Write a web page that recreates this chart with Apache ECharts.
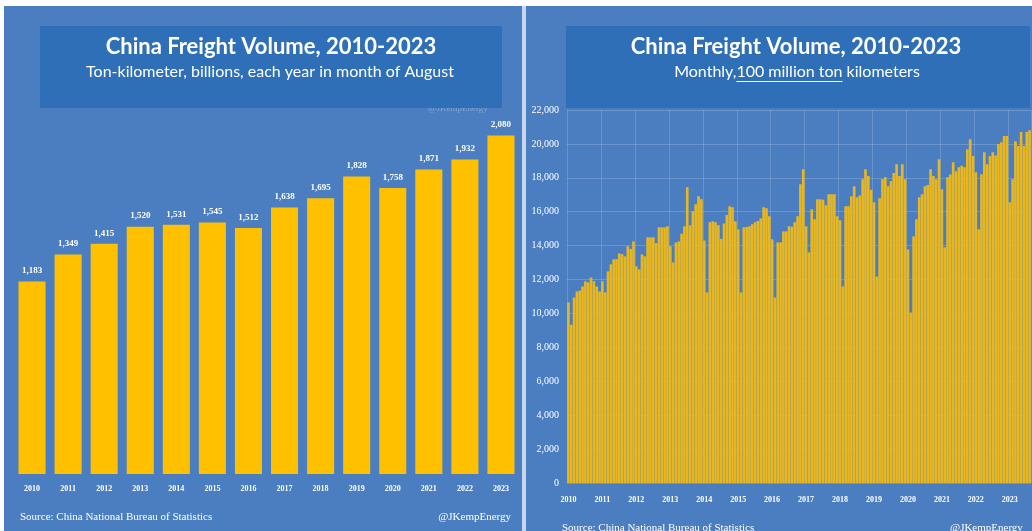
<!DOCTYPE html>
<html>
<head>
<meta charset="utf-8">
<script src="https://cdn.jsdelivr.net/npm/echarts@6/dist/echarts.min.js"></script>
<style>
  html, body { margin: 0; padding: 0; background: #ffffff; }
  #chart { width: 1032px; height: 531px; }
</style>
</head>
<body>
<div id="chart"></div>
<script>
// August freight turnover, billion ton-km
const augustYears = ['2010', '2011', '2012', '2013', '2014', '2015', '2016',
                     '2017', '2018', '2019', '2020', '2021', '2022', '2023'];
const augustVolume = [1183, 1349, 1415, 1520, 1531, 1545, 1512,
                      1638, 1695, 1828, 1758, 1871, 1932, 2080];

// Monthly freight turnover, 100 million ton-km (Jan..Dec)
const monthly2010 = [10650, 9340, 10940, 11300, 11350, 11590, 11890, 11830, 12120, 11900, 11590, 11300];
const monthly2011 = [11900, 11240, 12480, 12900, 13190, 13200, 13540, 13490, 13370, 13960, 13800, 14250];
const monthly2012 = [12780, 12600, 13480, 13370, 14490, 14490, 14490, 14150, 15080, 15080, 15080, 15140];
const monthly2013 = [13960, 13010, 14190, 14250, 14700, 15140, 17450, 15200, 16030, 16440, 16910, 16740];
const monthly2014 = [14300, 11240, 15380, 15440, 15380, 15200, 14400, 15310, 15800, 16330, 16260, 15440];
const monthly2015 = [14960, 11240, 15080, 15100, 15140, 15260, 15380, 15450, 15600, 16260, 16200, 15730];
const monthly2016 = [14370, 10940, 14190, 14190, 14840, 14840, 15140, 15120, 15380, 15730, 17620, 18510];
const monthly2017 = [15140, 13600, 16140, 15550, 16740, 16740, 16700, 16380, 17030, 17030, 17030, 15730];
const monthly2018 = [15500, 11590, 16330, 16330, 16910, 17500, 16850, 16950, 17920, 18510, 18100, 17300];
const monthly2019 = [16560, 12180, 16800, 17920, 18040, 17500, 17800, 18280, 18800, 18100, 18800, 17920];
const monthly2020 = [13780, 10050, 14550, 15550, 16850, 17030, 17500, 17580, 18510, 18100, 17920, 19100];
const monthly2021 = [17330, 13900, 18040, 18200, 18920, 18390, 18630, 18710, 18630, 19690, 20280, 19280];
const monthly2022 = [18330, 14960, 18210, 19510, 18800, 19280, 19510, 19320, 19990, 20100, 20460, 20460];
const monthly2023 = [16560, 17920, 20160, 19870, 20700, 19870, 20700, 20800];

const monthlyByYear = [
  ['2010', monthly2010], ['2011', monthly2011], ['2012', monthly2012], ['2013', monthly2013],
  ['2014', monthly2014], ['2015', monthly2015], ['2016', monthly2016], ['2017', monthly2017],
  ['2018', monthly2018], ['2019', monthly2019], ['2020', monthly2020], ['2021', monthly2021],
  ['2022', monthly2022], ['2023', monthly2023]
];

const monthCategories = [];
const monthValues = [];
monthlyByYear.forEach(([year, vals]) => {
  vals.forEach((v, i) => {
    monthCategories.push(year + '-' + String(i + 1).padStart(2, '0'));
    monthValues.push(v);
  });
});

const PANEL = '#4a7ec1';
const TITLE_BOX = '#2e6fb7';
const SERIF = "'Liberation Serif', 'Times New Roman', serif";
const SANS = "Lato, 'Open Sans', sans-serif";
const TITLE_FONT = 'bold 22px ' + SANS;
const SUB_FONT = '16px ' + SANS;
const fmt = v => Number(v).toLocaleString('en-US');

// Underline under "100 million ton" in the right subtitle, placed from measured text widths
const measure = (() => {
  const ctx = document.createElement('canvas').getContext('2d');
  ctx.font = '16px Lato';
  return s => ctx.measureText(s).width;
})();
const subA = 'Monthly,', subB = '100 million ton', subC = ' kilometers';
const subCenterX = 797, subY = 72;
const subLeft = subCenterX - measure(subA + subB + subC) / 2;
const ulX1 = subLeft + measure(subA);
const ulX2 = ulX1 + measure(subB);

const chart = echarts.init(document.getElementById('chart'), null, { renderer: 'canvas' });

chart.setOption({
  animation: false,
  backgroundColor: '#ffffff',
  graphic: [
    // panels
    { type: 'rect', z: -20, shape: { x: 4, y: 6, width: 518, height: 525 }, style: { fill: PANEL } },
    { type: 'rect', z: -20, shape: { x: 526, y: 6, width: 506, height: 525 }, style: { fill: PANEL } },
    { type: 'rect', z: -20, shape: { x: 522, y: 6, width: 4, height: 525 }, style: { fill: '#c9d7ea' } },
    // faint watermark peeking under the left title box
    { type: 'text', z: -10, x: 458, y: 109,
      style: { text: '@JKempEnergy', fill: 'rgba(200,210,225,0.45)', font: '9px ' + SERIF,
               textAlign: 'center', textVerticalAlign: 'middle' } },
    // title boxes
    { type: 'rect', z: 20, shape: { x: 40, y: 26, width: 462, height: 82 }, style: { fill: TITLE_BOX } },
    { type: 'rect', z: 20, shape: { x: 566, y: 26, width: 464, height: 82 }, style: { fill: TITLE_BOX } },
    { type: 'text', z: 21, x: 271, y: 47,
      style: { text: 'China Freight Volume, 2010-2023', fill: '#fff', font: TITLE_FONT,
               textAlign: 'center', textVerticalAlign: 'middle' } },
    { type: 'text', z: 21, x: 270, y: subY,
      style: { text: 'Ton-kilometer, billions, each year in month of August', fill: '#fff', font: SUB_FONT,
               textAlign: 'center', textVerticalAlign: 'middle' } },
    { type: 'text', z: 21, x: 796, y: 47,
      style: { text: 'China Freight Volume, 2010-2023', fill: '#fff', font: TITLE_FONT,
               textAlign: 'center', textVerticalAlign: 'middle' } },
    { type: 'text', z: 21, x: subCenterX, y: subY,
      style: { text: subA + subB + subC, fill: '#fff', font: SUB_FONT,
               textAlign: 'center', textVerticalAlign: 'middle' } },
    { type: 'line', z: 21, shape: { x1: ulX1, y1: subY + 9.5, x2: ulX2, y2: subY + 9.5 },
      style: { stroke: '#fff', lineWidth: 1 } },
    // sources
    { type: 'text', x: 20, y: 517,
      style: { text: 'Source: China National Bureau of Statistics', fill: '#fff', font: '11px ' + SERIF,
               textAlign: 'left', textVerticalAlign: 'middle' } },
    { type: 'text', x: 511, y: 517,
      style: { text: '@JKempEnergy', fill: '#fff', font: '11px ' + SERIF,
               textAlign: 'right', textVerticalAlign: 'middle' } },
    { type: 'text', x: 562, y: 528,
      style: { text: 'Source: China National Bureau of Statistics', fill: '#fff', font: '11px ' + SERIF,
               textAlign: 'left', textVerticalAlign: 'middle' } },
    { type: 'text', x: 950, y: 528,
      style: { text: '@JKempEnergy', fill: '#fff', font: '11px ' + SERIF,
               textAlign: 'left', textVerticalAlign: 'middle' } }
  ],
  grid: [
    { left: 14, top: 116, width: 505, height: 358 },
    { left: 567, top: 110, width: 464, height: 373 }
  ],
  xAxis: [
    {
      type: 'category', gridIndex: 0, data: augustYears,
      axisLine: { show: false }, axisTick: { show: false },
      axisLabel: { color: '#fff', fontFamily: SERIF, fontWeight: 'bold', fontSize: 8, margin: 11 }
    },
    {
      type: 'category', gridIndex: 1, data: monthCategories,
      axisLine: { show: false }, axisTick: { show: false },
      axisLabel: {
        color: '#fff', fontFamily: SERIF, fontWeight: 'bold', fontSize: 8, margin: 13,
        interval: i => i % 12 === 0, formatter: v => v.slice(0, 4)
      },
      splitLine: { show: true, interval: i => i % 12 === 0,
                   lineStyle: { color: 'rgba(255,255,255,0.16)', width: 1 } }
    }
  ],
  yAxis: [
    { type: 'value', gridIndex: 0, min: 0, max: 2200, show: false },
    {
      type: 'value', gridIndex: 1, min: 0, max: 22000, interval: 2000,
      axisLine: { show: false }, axisTick: { show: false },
      axisLabel: { color: '#fff', fontFamily: SERIF, fontSize: 10, margin: 8, formatter: fmt },
      splitLine: { lineStyle: { color: 'rgba(255,255,255,0.18)', width: 1 } }
    }
  ],
  series: [
    {
      type: 'bar', xAxisIndex: 0, yAxisIndex: 0, data: augustVolume, barWidth: '75%',
      itemStyle: { color: '#ffc000' },
      label: {
        show: true, position: 'top', distance: 6, color: '#fff',
        fontFamily: SERIF, fontWeight: 'bold', fontSize: 9,
        formatter: p => fmt(p.value)
      }
    },
    {
      type: 'bar', xAxisIndex: 1, yAxisIndex: 1, data: monthValues, barCategoryGap: '6%',
      itemStyle: { color: '#e8b61f' }
    }
  ]
});
</script>
</body>
</html>
